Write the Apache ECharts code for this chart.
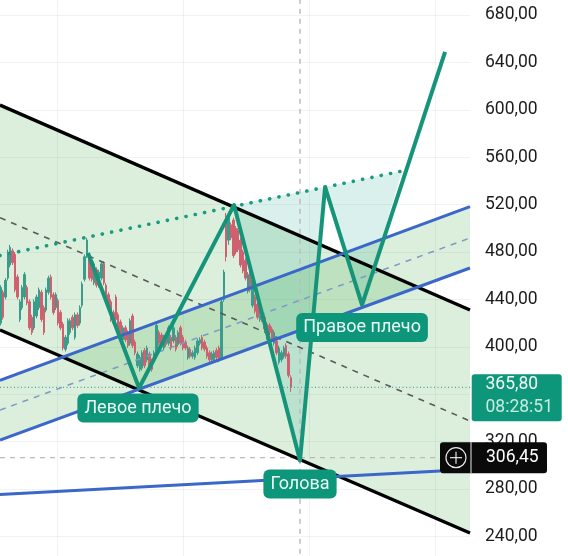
<!DOCTYPE html>
<html><head><meta charset="utf-8">
<style>html,body{margin:0;padding:0;background:#fff}#c{width:568px;height:556px}</style>
<script src="https://cdn.jsdelivr.net/npm/echarts@6/dist/echarts.min.js"></script>
</head><body><div id="c"></div>
<script>
const firstBar = 29;
const candleOpen = [420,446,442,458,469,481,478,459,423,433,442,450,438,425,416,426,433,446,433,431,446,459,444,433,439,429,419,398,403,412,425,408,427,420,435,457,477,477,470,454,465,452,458,470,452,444,438,429,442,427,421,406,416,412,403,426,404,384,381,382,397,389,394,388,389,395,412,410,399,408,403,408,405,408,402,416,408,404,391,398,392,391,395,403,408,404,399,395,389,389,397,399,391,440,505,490,503,507,500,498,490,480,473,447,463,435,442,436,423,432,425,419,418,415,403,405,387,389,392,401,394,374];
const candleClose = [450,425,456,480,484,471,448,442,438,450,461,437,416,412,438,442,448,423,412,448,458,442,429,444,420,416,399,408,422,422,416,427,418,433,453,476,490,458,457,470,452,463,470,454,442,433,423,420,423,415,409,416,406,401,422,401,395,394,391,395,384,399,382,381,395,418,403,402,408,402,416,399,416,398,412,403,399,399,399,392,395,399,405,406,399,398,392,389,394,395,391,389,438,463,476,512,492,477,480,482,469,464,458,461,448,456,430,425,433,423,415,408,412,406,412,395,399,395,399,392,376,365.8];
const candleLow = [418,423,440,456,467,469,446,440,421,431,440,435,414,410,414,424,431,421,410,429,444,440,427,431,418,414,397,396,401,410,414,406,416,418,433,455,475,456,455,452,450,450,456,452,440,431,421,418,421,413,407,404,404,399,401,399,393,382,379,380,382,387,380,379,387,393,401,400,397,400,401,397,403,396,400,401,397,397,389,390,390,389,393,401,397,396,390,387,387,387,389,387,389,438,472,486,490,475,478,480,467,462,456,445,446,433,428,423,421,421,413,406,410,404,401,393,385,387,390,390,374,362];
const candleHigh = [452,448,458,482,486,483,480,461,440,452,463,452,440,427,440,444,450,448,435,450,460,461,446,446,441,431,421,410,424,424,427,429,429,435,455,478,492,479,472,472,467,465,472,472,454,446,440,431,444,429,423,418,418,414,424,428,406,396,393,397,399,401,396,390,397,420,414,412,410,410,418,410,418,410,414,418,410,406,401,400,397,401,407,408,410,406,401,397,396,397,399,401,440,465,513,514,505,509,502,500,492,482,475,463,465,458,444,438,435,434,427,421,420,417,414,407,401,397,401,403,396,376];

const blackUpper = [[28.75,604.0],[224.58,431.0]];
const blackLower = [[28.75,414.2],[224.58,242.9]];
const blackMedian = [[28.75,509.0],[224.58,337.4]];
const blueUpper = [[28.75,371.6],[224.58,518.3]];
const blueLower = [[28.75,321.3],[224.58,466.5]];
const blueMedian = [[28.75,346.6],[224.58,491.8]];
const blueBottom = [[28.75,275.3],[212.1,295.2]];
const neckline = [[28.75,477.0],[196.25,548.3]];
const patternLine = [[65.4,479.2],[86.7,365.2],[126.25,519.6],[153.75,304.0],[164.2,534.8],[179.6,435.3],[214.2,648.8]];
const headFill = [[126.25,519.6],[153.75,304.0],[164.2,534.8]];
const rightFill = [[164.2,534.8],[179.6,435.3],[196.25,548.3]];
const lastPrice = 365.80;
const cursorPrice = 306.45;
const cursorBar = 153.75;
const lastPriceText = '365,80';
const countdownText = '08:28:51';
const cursorPriceText = '306,45';
const patternLabels = [['Левое плечо',86.25,348.3],['Голова',153.75,284.2],['Правое плечо',179.6,416.3]];

const TEAL = '#0e967a', FONT = 'Roboto';
const chart = echarts.init(document.getElementById('c'), null, {renderer:'canvas'});

function fill(name, verts, color){
  return {type:'custom', name, coordinateSystem:'cartesian2d', z:1, silent:true, data:verts, encode:{x:0,y:1},
    renderItem(p, api){
      if(p.dataIndex!==0) return null;
      return {type:'polygon', shape:{points:verts.map(v=>api.coord(v))}, style:{fill:color}};
    }};
}
function line(name, pts, color, width, type, z, cap){
  return {type:'line', name, data:pts, symbol:'none', z:z||3, silent:true, animation:false, clip:false,
    lineStyle:{color, width, type:type||'solid', cap:cap||'butt', join:'round'}};
}
const GREEN = 'rgba(76,175,80,0.2)', TEALFILL = 'rgba(8,153,129,0.15)';

const option = {
  animation:false,
  backgroundColor:'#fff',
  grid:{left:-69, right:98, top:-32.4, bottom:-27.8, containLabel:false, outerBoundsMode:'none'},
  xAxis:{type:'value', min:0, max:224.58, interval:52.5,
    axisLine:{show:false}, axisTick:{show:false}, axisLabel:{show:false},
    splitLine:{show:true, showMinLine:false, showMaxLine:false, lineStyle:{color:'rgba(0,0,0,0.05)', width:1}}},
  yAxis:{type:'value', position:'right', min:200, max:720, interval:40,
    axisLine:{show:false}, axisTick:{show:false},
    splitLine:{show:true, lineStyle:{color:'rgba(0,0,0,0.05)', width:1}},
    axisLabel:{show:true, margin:15, color:'#1c1c1c', fontFamily:FONT, fontSize:17.5, padding:[0,0,6,0],
      formatter:v=>v.toFixed(2).replace('.',',')}},
  series:[
    fill('Нисходящий канал',[blackUpper[0],blackUpper[1],blackLower[1],blackLower[0]],GREEN),
    fill('Восходящий канал',[blueUpper[0],blueUpper[1],blueLower[1],blueLower[0]],GREEN),
    fill('Голова зона',headFill,TEALFILL),
    fill('Правое плечо зона',rightFill,TEALFILL),
    line('Курсор время',[[cursorBar,200],[cursorBar,720]],'#bcbcbc',1.5,[5,5],2),
    line('Курсор цена',[[28.75,cursorPrice],[224.58,cursorPrice]],'#b8b8b8',1.2,[5,5],2),
    {type:'candlestick', name:'Цена', z:2, silent:true, barWidth:2, clip:true,
      data:candleOpen.map((o,i)=>[firstBar+i,o,candleClose[i],candleLow[i],candleHigh[i]]),
      encode:{x:0,y:[1,2,3,4]},
      itemStyle:{color:'#3a9c8a',color0:'#cf6070',borderColor:'#3a9c8a',borderColor0:'#cf6070',borderWidth:1}},
    line('Текущая цена',[[28.75,lastPrice],[224.58,lastPrice]],'#4aa892',1.2,[1,2.5],3),
    line('Медиана канала',blackMedian,'#5a5a5a',1.6,[6,6],3),
    line('Медиана восходящая',blueMedian,'#7d9ac4',1.5,[6,6],3),
    line('Верх канала',blackUpper,'#000',3.4,'solid',4),
    line('Низ канала',blackLower,'#000',3.4,'solid',4),
    line('Верх восходящего',blueUpper,'#3b67c9',3,'solid',4),
    line('Низ восходящего',blueLower,'#3b67c9',3,'solid',4),
    line('Нижняя линия',blueBottom,'#3b67c9',3,'solid',4),
    line('Линия шеи',neckline,'#1a9a80',3.6,[0.1,9.4],4,'round'),
    line('Фигура',patternLine,'#16947a',4,'solid',5),
    {type:'scatter', name:'Подписи', z:6, silent:true, clip:false, symbolSize:0, itemStyle:{opacity:1},
      data:patternLabels.map(l=>({name:l[0],value:[l[1],l[2]]})),
      label:{show:true, position:'inside', formatter:'{b}', color:'#eafaf6', fontFamily:FONT, fontSize:18, opacity:1,
        backgroundColor:TEAL, borderRadius:6, padding:[6,7,5,7]}},
    {type:'custom', name:'Цена тег', z:7, silent:true, data:[[224.58,lastPrice]], encode:{x:0,y:1},
      renderItem(p, api){
        const c = api.coord([224.58,lastPrice]);
        return {type:'group', x:c[0], y:c[1], children:[
          {type:'rect', shape:{x:1.7,y:-13,width:90,height:47,r:3}, style:{fill:TEAL}},
          {type:'text', style:{x:15.5,y:-2.5,text:lastPriceText,fill:'#f2fbf9',font:'17.5px '+FONT,verticalAlign:'middle'}},
          {type:'text', style:{x:15.5,y:20,text:countdownText,fill:'#c5ebe2',font:'17.5px '+FONT,verticalAlign:'middle'}}
        ]};
      }},
    {type:'custom', name:'Курсор тег', z:7, silent:true, data:[[224.58,cursorPrice]], encode:{x:0,y:1},
      renderItem(p, api){
        const c = api.coord([224.58,cursorPrice]);
        const stroke = {stroke:'#e8e8e8',lineWidth:1.2,fill:null};
        return {type:'group', x:c[0], y:c[1], children:[
          {type:'rect', shape:{x:-30,y:-15.5,width:107,height:31,r:3}, style:{fill:'#0a0a0a'}},
          {type:'line', shape:{x1:1,y1:-15.5,x2:1,y2:15.5}, style:{stroke:'#e8e8e8',lineWidth:1}},
          {type:'circle', shape:{cx:-14,cy:0,r:10}, style:stroke},
          {type:'line', shape:{x1:-20,y1:0,x2:-8,y2:0}, style:stroke},
          {type:'line', shape:{x1:-14,y1:-6,x2:-14,y2:6}, style:stroke},
          {type:'text', style:{x:16,y:0,text:cursorPriceText,fill:'#fff',font:'17.5px '+FONT,verticalAlign:'middle'}}
        ]};
      }}
  ]
};
chart.setOption(option);
</script></body></html>
